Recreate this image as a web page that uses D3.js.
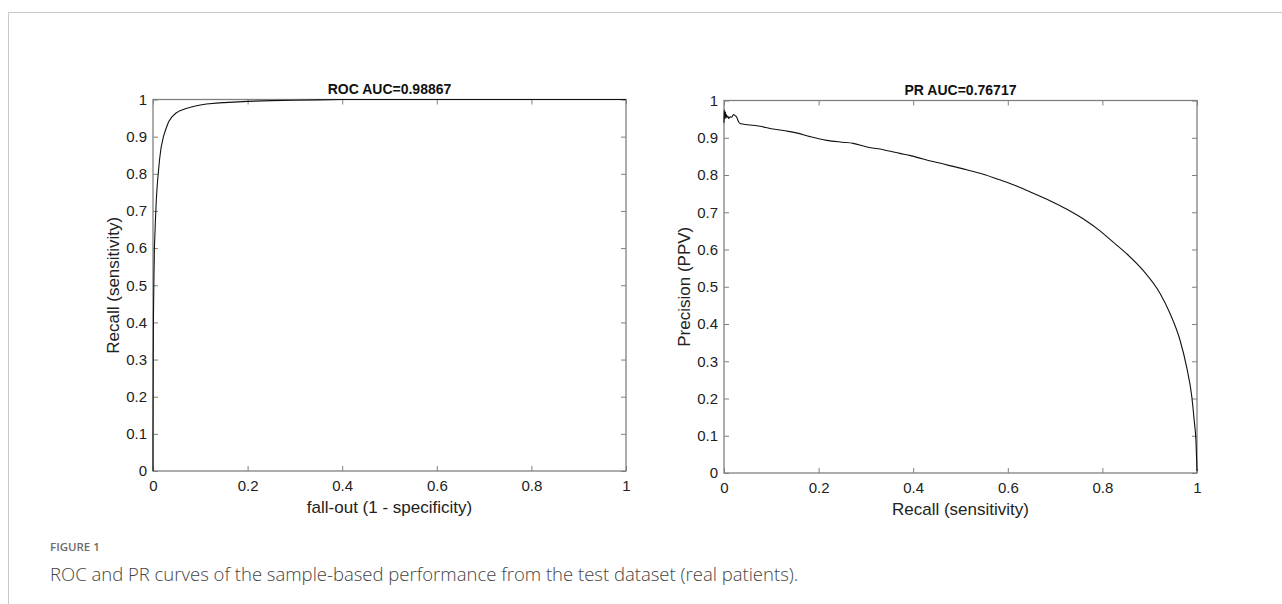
<!DOCTYPE html>
<html><head><meta charset="utf-8">
<script src="https://cdn.jsdelivr.net/npm/d3@7"></script>
<style>
body{margin:0;background:#fff;}
svg{display:block;}
</style></head>
<body>
<svg id="c" width="1282" height="604"></svg>
<script>
// ROC curve (fall-out vs recall)
const rocFpr = [0, 0, 0.0005, 0.001, 0.002, 0.003, 0.005, 0.007, 0.009, 0.011, 0.014, 0.017, 0.022, 0.027, 0.033, 0.04, 0.048, 0.057, 0.07, 0.085, 0.1, 0.113, 0.14, 0.17, 0.2, 0.25, 0.3, 0.35, 0.4, 0.5, 0.7, 1];
const rocTpr = [0, 0.08, 0.3, 0.42, 0.52, 0.6, 0.67, 0.73, 0.77, 0.8, 0.84, 0.87, 0.9, 0.92, 0.94, 0.953, 0.963, 0.97, 0.976, 0.981, 0.985, 0.988, 0.991, 0.993, 0.995, 0.997, 0.998, 0.999, 1, 1, 1, 1];
// PR curve (recall vs precision)
const prRecall = [0, 0.0005, 0.001, 0.0015, 0.002, 0.003, 0.004, 0.005, 0.006, 0.008, 0.01, 0.013, 0.016, 0.02, 0.023, 0.027, 0.03, 0.034, 0.05, 0.076, 0.1, 0.132, 0.153, 0.182, 0.217, 0.25, 0.273, 0.302, 0.337, 0.372, 0.394, 0.442, 0.513, 0.548, 0.583, 0.62, 0.654, 0.689, 0.724, 0.76, 0.795, 0.816, 0.851, 0.886, 0.922, 0.943, 0.964, 0.978, 0.989, 0.994, 0.998, 1];
const prPrecision = [0.94, 0.975, 0.95, 0.968, 0.955, 0.97, 0.952, 0.962, 0.955, 0.958, 0.952, 0.956, 0.955, 0.962, 0.96, 0.955, 0.945, 0.938, 0.935, 0.931, 0.924, 0.918, 0.913, 0.903, 0.893, 0.888, 0.885, 0.875, 0.868, 0.858, 0.852, 0.836, 0.814, 0.802, 0.787, 0.77, 0.751, 0.731, 0.709, 0.682, 0.65, 0.627, 0.589, 0.544, 0.482, 0.428, 0.357, 0.285, 0.205, 0.142, 0.08, 0.005];

const xTicks = [0, 0.2, 0.4, 0.6, 0.8, 1];
const yTicks = [0, 0.1, 0.2, 0.3, 0.4, 0.5, 0.6, 0.7, 0.8, 0.9, 1];
const tickFmt = d => d3.format("")(+d.toFixed(1));

const panels = [
  {title: "ROC AUC=0.98867", xLabel: "fall-out (1 - specificity)", yLabel: "Recall (sensitivity)",
   xs: rocFpr, ys: rocTpr, left: 153, right: 626, top: 99.5, bottom: 471, curve: d3.curveLinear},
  {title: "PR AUC=0.76717", xLabel: "Recall (sensitivity)", yLabel: "Precision (PPV)",
   xs: prRecall, ys: prPrecision, left: 724, right: 1197, top: 100.5, bottom: 473, curve: d3.curveMonotoneX}
];

const svg = d3.select("#c");
const FONT = "'Liberation Sans', Arial, sans-serif";
const AXC = "#808080";

// page frame
svg.append("line").attr("x1", 8.5).attr("x2", 1282).attr("y1", 12.5).attr("y2", 12.5).attr("stroke", "#c8c8c8").attr("stroke-width", 1);
svg.append("line").attr("x1", 8.5).attr("x2", 8.5).attr("y1", 12.5).attr("y2", 604).attr("stroke", "#c8c8c8").attr("stroke-width", 1);

panels.forEach(p => {
  const x = d3.scaleLinear().domain([0, 1]).range([p.left, p.right]);
  const y = d3.scaleLinear().domain([0, 1]).range([p.bottom, p.top]);
  const g = svg.append("g");

  const styleAxis = (sel) => {
    sel.select(".domain").remove();
    sel.selectAll(".tick line").attr("stroke", AXC).attr("stroke-width", 1);
  };

  // bottom ticks (inside)
  const bx = g.append("g").attr("transform", `translate(0,${p.bottom})`)
    .call(d3.axisBottom(x).tickValues(xTicks).tickSize(-5).tickPadding(9).tickFormat(tickFmt));
  styleAxis(bx);
  bx.selectAll("text").attr("font-family", FONT).attr("font-size", 15).attr("fill", "#222");
  // top ticks (inside, no labels)
  const tx = g.append("g").attr("transform", `translate(0,${p.top})`)
    .call(d3.axisTop(x).tickValues(xTicks).tickSize(-5).tickFormat(""));
  styleAxis(tx);
  // left ticks
  const ly = g.append("g").attr("transform", `translate(${p.left},0)`)
    .call(d3.axisLeft(y).tickValues(yTicks).tickSize(-5).tickPadding(6).tickFormat(tickFmt));
  styleAxis(ly);
  ly.selectAll("text").attr("font-family", FONT).attr("font-size", 15).attr("fill", "#222");
  // right ticks
  const ry = g.append("g").attr("transform", `translate(${p.right},0)`)
    .call(d3.axisRight(y).tickValues(yTicks).tickSize(-5).tickFormat(""));
  styleAxis(ry);

  // box
  g.append("rect").attr("x", p.left).attr("y", p.top).attr("width", p.right - p.left).attr("height", p.bottom - p.top)
    .attr("fill", "none").attr("stroke", AXC).attr("stroke-width", 1.3);

  // curve
  const line = d3.line().x((d, i) => x(p.xs[i])).y((d, i) => y(p.ys[i])).curve(p.curve);
  g.append("path").datum(p.xs).attr("d", line).attr("fill", "none").attr("stroke", "#111").attr("stroke-width", 1.1);

  // title
  g.append("text").attr("x", (p.left + p.right) / 2).attr("y", p.top - 6)
    .attr("text-anchor", "middle").attr("font-family", FONT).attr("font-size", 14).attr("font-weight", "bold").attr("fill", "#111").text(p.title);
  // x label
  g.append("text").attr("x", (p.left + p.right) / 2).attr("y", p.bottom + 42)
    .attr("text-anchor", "middle").attr("font-family", FONT).attr("font-size", 17).attr("fill", "#222").text(p.xLabel);
  // y label
  g.append("text").attr("transform", `translate(${p.left - 34},${(p.top + p.bottom) / 2}) rotate(-90)`)
    .attr("text-anchor", "middle").attr("font-family", FONT).attr("font-size", 17).attr("fill", "#222").text(p.yLabel);
});

// caption
svg.append("text").attr("x", 50).attr("y", 551).attr("font-family", "'Open Sans', sans-serif").attr("font-size", 11.5)
  .attr("font-weight", 600).attr("fill", "#6b6b6b").text("FIGURE 1");
svg.append("text").attr("x", 50).attr("y", 581).attr("font-family", "'Open Sans', sans-serif").attr("font-size", 18.5)
  .attr("font-weight", 300).attr("fill", "#444").text(" ROC and PR curves of the sample-based performance from the test dataset (real patients).");
</script>
</body></html>
